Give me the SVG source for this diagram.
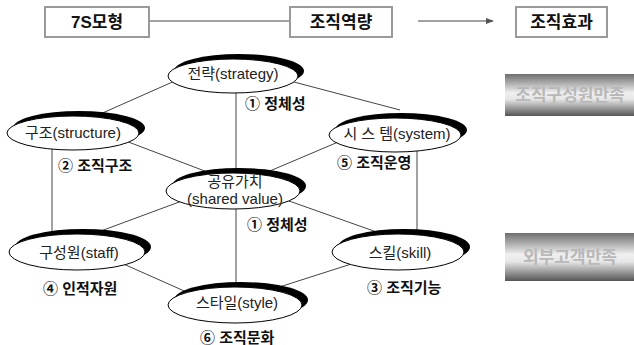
<svg xmlns="http://www.w3.org/2000/svg" width="634" height="345" viewBox="0 0 634 345">
<defs>
<style>
.hbox{fill:#fff;stroke:#9a9a9a;stroke-width:2}
.htxt{font-family:"Liberation Sans","Noto Sans CJK KR",sans-serif;font-size:17px;font-weight:bold;fill:#111;text-anchor:middle}
.conn{stroke:#444;stroke-width:1;fill:none}
.sh{fill:#000}
.el{fill:#fff;stroke:#000;stroke-width:1}
.nt{font-family:"Liberation Sans","Noto Sans CJK KR",sans-serif;font-size:15px;fill:#222;text-anchor:middle}
.lb{font-family:"Liberation Sans","Noto Sans CJK KR",sans-serif;font-size:15px;font-weight:bold;fill:#111}
.gt{font-family:"Liberation Sans","Noto Sans CJK KR",sans-serif;font-size:17px;font-weight:bold;fill:#b8b8b8;text-anchor:middle}
</style>
<linearGradient id="gg" x1="0" y1="0" x2="0" y2="1">
<stop offset="0" stop-color="#6e6e6e"/>
<stop offset="0.45" stop-color="#f0f0f0"/>
<stop offset="0.6" stop-color="#e6e6e6"/>
<stop offset="1" stop-color="#555"/>
</linearGradient>
<marker id="arr" markerWidth="8" markerHeight="6" refX="7" refY="3" orient="auto" markerUnits="userSpaceOnUse">
<path d="M0,0 L8,3 L0,6 z" fill="#555"/>
</marker>
</defs>
<rect width="634" height="345" fill="#fff"/>

<g id="connectors">
<line class="conn" x1="149" y1="21" x2="290" y2="21"/>
<line class="conn" x1="418" y1="21" x2="493" y2="21" marker-end="url(#arr)"/>
<line class="conn" x1="195" y1="72" x2="80" y2="123"/>
<line class="conn" x1="275" y1="77" x2="400" y2="110"/>
<line class="conn" x1="236" y1="85" x2="236" y2="185"/>
<line class="conn" x1="110" y1="135" x2="210" y2="173"/>
<line class="conn" x1="350" y1="137" x2="265" y2="173"/>
<line class="conn" x1="190" y1="198" x2="90" y2="235"/>
<line class="conn" x1="275" y1="196" x2="385" y2="235"/>
<line class="conn" x1="52" y1="140" x2="52" y2="245"/>
<line class="conn" x1="417" y1="140" x2="417" y2="245"/>
<line class="conn" x1="110" y1="258" x2="200" y2="298"/>
<line class="conn" x1="370" y1="258" x2="270" y2="290"/>
<line class="conn" x1="236" y1="200" x2="236" y2="295"/>
</g>

<g id="hdr-7s"><rect class="hbox" x="45" y="7" width="104" height="30"/><text class="htxt" x="97" y="28">7S모형</text></g>
<g id="hdr-capa"><rect class="hbox" x="290" y="7" width="102" height="30"/><text class="htxt" x="341" y="28">조직역량</text></g>
<g id="hdr-eff"><rect class="hbox" x="516" y="7" width="91" height="30"/><text class="htxt" x="561.5" y="28">조직효과</text></g>

<g id="sat-member"><rect x="505" y="74" width="129" height="42" fill="url(#gg)"/><text class="gt" x="570" y="101">조직구성원만족</text></g>
<g id="sat-customer"><rect x="505" y="233" width="129" height="48" fill="url(#gg)"/><text class="gt" x="570" y="263">외부고객만족</text></g>

<g id="n-strategy">
<ellipse class="sh" cx="239" cy="71" rx="65" ry="17"/>
<ellipse class="el" cx="233" cy="76" rx="65" ry="17"/>
<text class="nt" x="233" y="79">전략(strategy)</text>
</g>
<g id="n-structure">
<ellipse class="sh" cx="79" cy="128" rx="66" ry="17"/>
<ellipse class="el" cx="73" cy="133" rx="66" ry="17"/>
<text class="nt" x="73" y="138">구조(structure)</text>
</g>
<g id="n-system">
<ellipse class="sh" cx="401" cy="130" rx="66" ry="17"/>
<ellipse class="el" cx="395" cy="135" rx="66" ry="17"/>
<text class="nt" x="397" y="139">시 스 템(system)</text>
</g>
<g id="n-shared">
<ellipse class="sh" cx="239" cy="186" rx="67" ry="18"/>
<ellipse class="el" cx="233" cy="191" rx="67" ry="18"/>
<text class="nt" x="235" y="187">공유가치</text>
<text class="nt" x="235" y="204">(shared value)</text>
</g>
<g id="n-staff">
<ellipse class="sh" cx="83" cy="247" rx="68" ry="18"/>
<ellipse class="el" cx="77" cy="252" rx="68" ry="18"/>
<text class="nt" x="79" y="258">구성원(staff)</text>
</g>
<g id="n-skill">
<ellipse class="sh" cx="404" cy="247" rx="66" ry="18"/>
<ellipse class="el" cx="398" cy="252" rx="66" ry="18"/>
<text class="nt" x="400" y="258">스킬(skill)</text>
</g>
<g id="n-style">
<ellipse class="sh" cx="241" cy="300" rx="67" ry="18"/>
<ellipse class="el" cx="235" cy="305" rx="67" ry="18"/>
<text class="nt" x="237" y="308">스타일(style)</text>
</g>

<g id="labels">
<text class="lb" x="245" y="109">① 정체성</text>
<text class="lb" x="58" y="171">② 조직구조</text>
<text class="lb" x="337" y="168">⑤ 조직운영</text>
<text class="lb" x="247" y="230">① 정체성</text>
<text class="lb" x="43" y="294">④ 인적자원</text>
<text class="lb" x="367" y="293">③ 조직기능</text>
<text class="lb" x="200" y="343">⑥ 조직문화</text>
</g>
</svg>
